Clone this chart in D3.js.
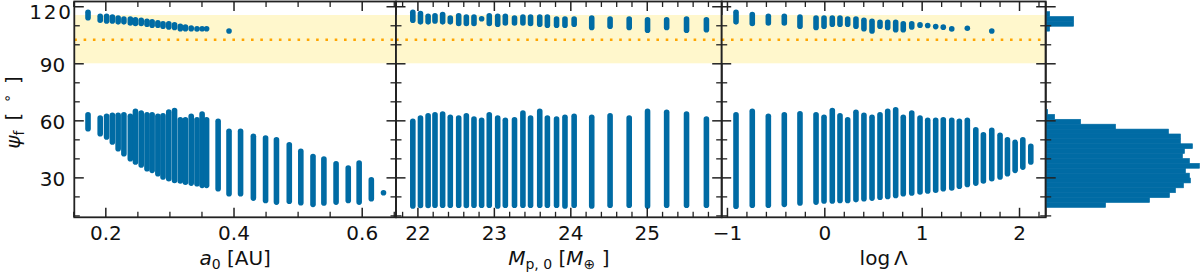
<!DOCTYPE html>
<html><head><meta charset="utf-8">
<script src="https://cdn.jsdelivr.net/npm/d3@7"></script>
<style>body{margin:0;background:#fff;} svg{display:block;font-family:"DejaVu Sans",sans-serif;}</style>
</head><body><svg id="c" width="1200" height="273"></svg>
<script>
// ---------- data ----------
const yMajor = [30, 60, 90, 120];
const yMinor = [10, 20, 40, 50, 70, 80, 100, 110];
const yTickLabels = ["30", "60", "90", "120"];
const band = [90, 115.4];
const refLine = 102.4;

// panel 1: a0
const a0Ticks = [0.2, 0.4, 0.6];
const a0TickLabels = ["0.2", "0.4", "0.6"];
const a0Minor = [0.15, 0.25, 0.3, 0.35, 0.45, 0.5, 0.55, 0.65];
const a0Cols = [0.173,0.192,0.202,0.211,0.220,0.229,0.239,0.247,0.256,0.265,0.273,0.282,0.290,0.299,0.308,0.317,0.325,0.334,0.343,0.351,0.358,0.376,0.393,0.411,0.431,0.450,0.467,0.487,0.505,0.524,0.541,0.560,0.579,0.596,0.615,0.634];
const a0LowTop = [62.9,61.2,62.1,62.6,62.6,62.9,62.1,64.7,63.8,62.9,62.9,62.1,62.4,64.3,65.2,60.3,60.3,62.1,60.3,63.3,60.3,59.5,54.2,54.2,51.6,50.7,49.8,47.1,43.7,41.0,39.6,37.1,34.9,37.5,28.7,21.9];
const a0LowBot = [55.6,53.0,51.2,48.6,45.1,42.4,39.8,38.1,36.5,34.6,33.7,31.9,30.2,29.3,28.4,28.1,27.5,27.0,26.7,25.8,25.8,24.0,21.4,21.4,19.1,17.9,17.0,17.5,16.7,15.8,16.5,17.0,17.9,17.0,18.8,21.9];
const a0UpTop = [116.8,114.7,114.7,114.3,113.8,113.3,113.3,112.9,112.6,112.1,111.8,111.3,110.8,110.8,110.3,109.4,109.1,108.6,108.1,108.2,108.2,null,107.0,null,null,null,null,null,null,null,null,null,null,null,null,null];
const a0UpBot = [114.0,112.7,112.3,112.3,111.8,111.8,111.2,110.9,110.9,110.5,110.0,110.0,109.5,109.1,108.8,108.2,108.2,108.2,108.1,108.2,108.2,null,107.0,null,null,null,null,null,null,null,null,null,null,null,null,null];

// panel 2: Mp,0
const mpTicks = [22, 23, 24, 25];
const mpTickLabels = ["22", "23", "24", "25"];
const mpMinor = [21.8,22.2,22.4,22.6,22.8,23.2,23.4,23.6,23.8,24.2,24.4,24.6,24.8,25.2,25.4,25.6,25.8];
const mpCols = [21.94,22.04,22.14,22.23,22.33,22.43,22.54,22.64,22.74,22.84,22.94,23.05,23.15,23.27,23.38,23.48,23.60,23.70,23.82,23.93,24.05,24.28,24.52,24.77,25.01,25.26,25.52,25.78];
const mpLowTop = [59.5,61.2,62.4,62.9,63.3,61.6,61.2,62.4,60.7,60.0,62.9,61.2,60.0,60.3,63.8,61.2,64.7,61.2,60.7,61.6,62.1,61.6,62.4,61.2,64.7,64.2,63.3,60.7];
const mpLowBot = [15.0,15.2,15.2,15.3,15.3,15.3,15.3,15.2,15.3,15.3,15.3,15.0,15.3,15.3,15.3,15.3,15.3,15.3,15.3,15.0,15.3,15.0,15.3,15.3,15.0,15.3,15.3,15.3];
const mpUpTop = [116.8,116.1,114.7,115.0,115.6,113.8,115.0,114.3,114.3,113.4,115.0,114.7,114.7,113.8,114.3,114.3,114.3,114.3,113.3,113.3,113.3,113.8,113.3,113.3,112.9,112.9,113.3,112.9];
const mpUpBot = [112.6,111.8,111.8,112.3,111.8,111.8,110.9,110.9,110.9,113.4,110.9,110.5,111.2,111.2,111.2,110.9,110.5,110.0,110.0,110.0,110.5,108.8,109.5,108.8,107.4,108.8,107.4,107.7];

// panel 3: log Lambda
const llTicks = [-1, 0, 1, 2];
const llTickLabels = ["\u22121", "0", "1", "2"];
const llMinor = [-0.8,-0.6,-0.4,-0.2,0.2,0.4,0.6,0.8,1.2,1.4,1.6,1.8,2.2];
const llCols = [-0.907,-0.740,-0.575,-0.411,-0.250,-0.085,-0.003,0.082,0.161,0.240,0.325,0.407,0.490,0.572,0.651,0.733,0.811,0.898,0.983,1.062,1.144,1.222,1.309,1.387,1.469,1.556,1.634,1.720,1.805,1.881,1.960,2.039,2.121];
const llLowTop = [62.9,64.7,62.1,62.9,63.4,62.9,61.6,65.2,62.4,60.3,64.2,62.6,61.6,62.9,64.7,65.6,61.6,63.8,61.2,60.0,60.0,60.3,60.0,59.5,60.0,55.0,52.4,54.7,52.1,49.8,48.4,49.8,46.3];
const llLowBot = [14.8,15.3,15.3,15.8,16.5,17.0,17.6,17.6,17.9,17.9,18.3,18.8,19.1,19.6,20.0,20.5,21.4,21.8,22.3,22.8,23.2,24.0,24.4,25.3,26.3,27.0,28.1,29.3,30.2,31.9,33.7,35.4,38.1];
const llUpTop = [116.8,115.6,114.7,114.7,114.3,113.8,113.8,113.8,113.8,113.3,113.3,112.6,112.1,111.5,111.5,111.5,110.8,110.8,110.3,109.9,109.3,109.0,108.1,null,108.4,null,null,107.0,null,null,null,null,null];
const llUpBot = [111.8,110.9,111.2,111.2,109.5,108.8,109.5,110.5,110.5,110.5,109.5,108.2,107.0,109.5,108.8,107.7,107.7,109.1,110.0,109.9,109.3,109.0,108.1,null,108.4,null,null,107.0,null,null,null,null,null];

// histogram of psi_f (40 bins)
const histEdges = [14.2,16.78,19.35,21.93,24.5,27.08,29.65,32.23,34.8,37.38,39.95,42.53,45.1,47.68,50.25,52.83,55.4,57.98,60.55,63.13,65.7,68.28,70.85,73.43,76.0,78.58,81.15,83.73,86.3,88.88,91.45,94.03,96.6,99.18,101.75,104.33,106.9,109.48,112.05,114.63,117.2];
const histCounts = [60,104,124,130,138,145,144,140,154,144,137,139,147,135,135,123,70,35,9,2,0,0,0,0,0,0,0,0,0,0,0,0,0,0,0,0,4,28,28,4];

// ---------- drawing ----------
const svg = d3.select("#c");
const C = "#006ba4", INK = "#222";
const yTop = 1.5, yBot = 217.3;
const y = d3.scaleLinear().domain([9, 122.5]).range([yBot, yTop]);
const DOT = 5.6;

function mathText(sel, parts, size) {
  const sub = size * 0.7;
  parts.forEach(p => {
    const t = sel.append("tspan").text(p.t).attr("font-size", p.sub || p.sup ? sub : size);
    if (p.it) t.attr("font-style", "italic");
    if (p.sub) t.attr("dy", size * 0.22);
    if (p.sup) t.attr("dy", -size * 0.38);
    if (p.back) t.attr("dy", p.back);
  });
}

const panels = [
  {x0:74.3, x1:396, dom:[0.1516,0.6535], ticks:a0Ticks, labels:a0TickLabels, minor:a0Minor, cols:a0Cols, lt:a0LowTop, lb:a0LowBot, ut:a0UpTop, ub:a0UpBot,
   xl:[{t:"a", it:true},{t:"0", sub:true},{t:" [AU]", back:-20*0.22}]},
  {x0:396, x1:721.7, dom:[21.72,25.98], ticks:mpTicks, labels:mpTickLabels, minor:mpMinor, cols:mpCols, lt:mpLowTop, lb:mpLowBot, ut:mpUpTop, ub:mpUpBot,
   xl:[{t:"M", it:true},{t:"p, 0", sub:true},{t:" [", back:-20*0.22},{t:"M", it:true},{t:"\u2295", sub:true},{t:" ]", back:-20*0.22}]},
  {x0:721.7, x1:1045.7, dom:[-1.054,2.274], ticks:llTicks, labels:llTickLabels, minor:llMinor, cols:llCols, lt:llLowTop, lb:llLowBot, ut:llUpTop, ub:llUpBot,
   xl:[{t:"log\u2009\u039B"}]}
];

svg.append("defs").selectAll("clipPath").data(panels).join("clipPath")
  .attr("id", (d,i)=>"cp"+i).append("rect")
  .attr("x", d=>d.x0).attr("y", yTop).attr("width", d=>d.x1-d.x0).attr("height", yBot-yTop);

panels.forEach((P, i) => {
  const x = d3.scaleLinear().domain(P.dom).range([P.x0, P.x1]);
  const g = svg.append("g");
  const cg = g.append("g").attr("clip-path", `url(#cp${i})`);
  cg.append("rect").attr("x", P.x0).attr("width", P.x1-P.x0)
    .attr("y", y(band[1])).attr("height", y(band[0]) - y(band[1])).attr("fill", "#fff7cc");
  cg.append("line").attr("x1", P.x0).attr("x2", P.x1).attr("y1", y(refLine)).attr("y2", y(refLine))
    .attr("stroke", "#ffa500").attr("stroke-width", 2.6).attr("stroke-dasharray", "2.6,6.7");
  const segs = [];
  P.cols.forEach((c, j) => {
    if (P.lt[j] != null) segs.push({x:c, a:P.lb[j], b:P.lt[j]});
    if (P.ut[j] != null) segs.push({x:c, a:P.ub[j], b:P.ut[j]});
  });
  cg.selectAll("line.col").data(segs).join("line").attr("class","col")
    .attr("x1", d=>x(d.x)).attr("x2", d=>x(d.x))
    .attr("y1", d=>y(d.a)).attr("y2", d=>y(d.b) - (Math.abs(d.a-d.b) < 0.01 ? 0.01 : 0))
    .attr("stroke", C).attr("stroke-width", DOT).attr("stroke-linecap", "round");

  // axes
  const style = (s, w) => { s.select(".domain").remove(); s.selectAll(".tick line").attr("stroke", INK).attr("stroke-width", w); };
  const fmt = d => P.labels[P.ticks.indexOf(d)];
  g.append("g").attr("transform", `translate(0,${yBot})`)
    .call(d3.axisBottom(x).tickValues(P.ticks).tickFormat(fmt).tickSize(-9.5).tickPadding(8.7))
    .call(s => style(s, 1.5))
    .call(s => s.selectAll("text").attr("font-size", 20).attr("font-family", "DejaVu Sans").attr("fill", "#111"));
  g.append("g").attr("transform", `translate(0,${yBot})`)
    .call(d3.axisBottom(x).tickValues(P.minor).tickFormat("").tickSize(-5.5)).call(s => style(s, 1.3));
  g.append("g").attr("transform", `translate(0,${yTop})`)
    .call(d3.axisTop(x).tickValues(P.ticks).tickFormat("").tickSize(-9.5)).call(s => style(s, 1.5));
  g.append("g").attr("transform", `translate(0,${yTop})`)
    .call(d3.axisTop(x).tickValues(P.minor).tickFormat("").tickSize(-5.5)).call(s => style(s, 1.3));
  g.append("g").attr("transform", `translate(${P.x0},0)`)
    .call(d3.axisLeft(y).tickValues(yMajor).tickFormat(i === 0 ? (d => yTickLabels[yMajor.indexOf(d)]) : "").tickSize(-9.5).tickPadding(9))
    .call(s => style(s, 1.5))
    .call(s => s.selectAll("text").attr("font-size", 20).attr("font-family", "DejaVu Sans").attr("fill", "#111").attr("dy", "0.41em"))
    .call(s => s.selectAll(".tick").filter(d => d === 120).select("text")
        .attr("x", -1.5).attr("dy", "0.62em").attr("letter-spacing", 1.8));
  g.append("g").attr("transform", `translate(${P.x0},0)`)
    .call(d3.axisLeft(y).tickValues(yMinor).tickFormat("").tickSize(-5.5)).call(s => style(s, 1.3));
  g.append("g").attr("transform", `translate(${P.x1},0)`)
    .call(d3.axisRight(y).tickValues(yMajor).tickFormat("").tickSize(-9.5)).call(s => style(s, 1.5));
  g.append("g").attr("transform", `translate(${P.x1},0)`)
    .call(d3.axisRight(y).tickValues(yMinor).tickFormat("").tickSize(-5.5)).call(s => style(s, 1.3));
  g.append("rect").attr("x", P.x0).attr("y", yTop).attr("width", P.x1-P.x0).attr("height", yBot-yTop)
    .attr("fill", "none").attr("stroke", INK).attr("stroke-width", 1.8);

  const xl = g.append("text").attr("x", (P.x0+P.x1)/2).attr("y", 264.5).attr("text-anchor", "middle").attr("fill", "#111");
  mathText(xl, P.xl, 20);
});

// y label
const yl = svg.append("text").attr("transform", `translate(20,${(yTop+yBot)/2 + 3}) rotate(-90)`).attr("text-anchor", "middle").attr("fill", "#111");
mathText(yl, [{t:"\u03C8", it:true},{t:"f", sub:true},{t:"\u2002[\u2002", back:-20*0.22},{t:"\u2218", sup:true},{t:"\u2002]", back:20*0.38}], 20);

// histogram
const hx0 = 1045.7;
const hx = d3.scaleLinear().domain([0, 154.5]).range([hx0, 1200]);
const bins = histCounts.map((c, i) => ({lo: histEdges[i], hi: histEdges[i+1], c}));
svg.append("g").selectAll("rect").data(bins.filter(b => b.c > 0)).join("rect")
  .attr("x", hx(0)).attr("width", d => hx(d.c) - hx(0))
  .attr("y", d => y(d.hi)).attr("height", d => y(d.lo) - y(d.hi))
  .attr("fill", C).attr("stroke", C).attr("stroke-width", 0.6);
const hg = svg.append("g");
const st = (s, w) => { s.select(".domain").remove(); s.selectAll(".tick line").attr("stroke", INK).attr("stroke-width", w); };
hg.append("g").attr("transform", `translate(${hx0},0)`)
  .call(d3.axisLeft(y).tickValues(yMajor).tickFormat("").tickSize(-10)).call(s => st(s, 1.5));
hg.append("g").attr("transform", `translate(${hx0},0)`)
  .call(d3.axisLeft(y).tickValues(yMinor).tickFormat("").tickSize(-5.5)).call(s => st(s, 1.3));
hg.append("line").attr("x1", hx0).attr("x2", hx0).attr("y1", yTop).attr("y2", yBot).attr("stroke", INK).attr("stroke-width", 1.8);
</script></body></html>
